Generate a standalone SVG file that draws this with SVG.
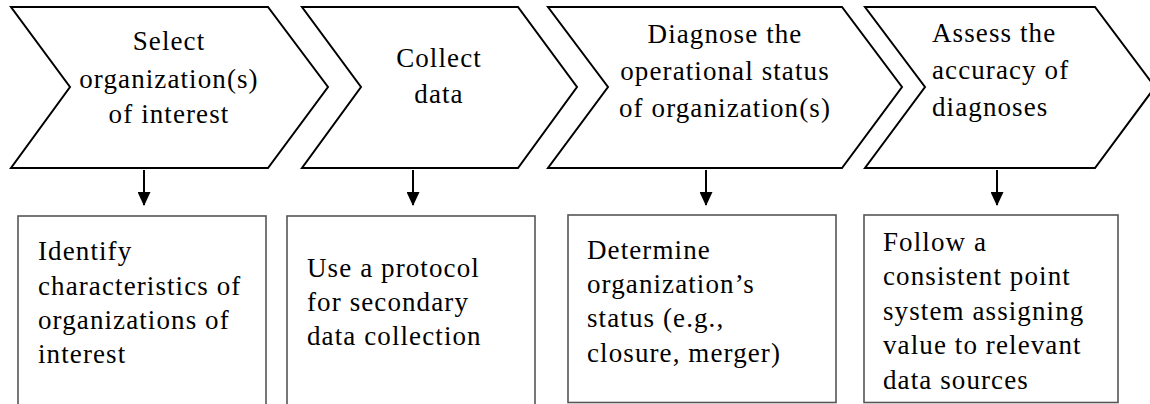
<svg xmlns="http://www.w3.org/2000/svg" width="1150" height="404" viewBox="0 0 1150 404">
  <style>
    .chev { fill: #ffffff; stroke: #000000; stroke-width: 2; stroke-linejoin: miter; }
    .box { fill: #ffffff; stroke: #555555; stroke-width: 1.6; }
    text { font-family: 'Liberation Serif', 'DejaVu Serif', serif; font-size: 27px; letter-spacing: 1.1px; fill: #000000; }
    .c { text-anchor: middle; }
    .conn line { stroke: #000000; stroke-width: 2; }
  </style>
  <defs>
    <marker id="arrowhead" viewBox="0 0 14 13" refX="13" refY="6.5" markerWidth="14" markerHeight="13" markerUnits="userSpaceOnUse" orient="auto">
      <path d="M0,0 L14,6.5 L0,13 Z" fill="#000000"/>
    </marker>
  </defs>
  <rect width="1150" height="404" fill="#ffffff"/>

  <!-- process steps (chevrons) -->
  <g id="step-select">
    <polygon class="chev" points="11,7 268,7 328,87 268,168 11,168 70,87"/>
    <text class="c" x="169" y="50">Select</text>
    <text class="c" x="169" y="88">organization(s)</text>
    <text class="c" x="169" y="123">of interest</text>
  </g>
  <g id="step-collect">
    <polygon class="chev" points="302,7 518,7 577,87 518,168 302,168 361,87"/>
    <text class="c" x="439" y="67">Collect</text>
    <text class="c" x="439" y="103">data</text>
  </g>
  <g id="step-diagnose">
    <polygon class="chev" points="548,7 842,7 902,87 842,168 548,168 608,87"/>
    <text class="c" x="725" y="43">Diagnose the</text>
    <text class="c" x="725" y="80">operational status</text>
    <text class="c" x="725" y="117">of organization(s)</text>
  </g>
  <g id="step-assess">
    <polygon class="chev" points="865,7 1095,7 1155,87 1095,168 865,168 925,87"/>
    <text x="932" y="42">Assess the</text>
    <text x="932" y="79">accuracy of</text>
    <text x="932" y="116">diagnoses</text>
  </g>

  <!-- detail boxes -->
  <g id="detail-select">
    <rect class="box" x="18" y="216" width="248" height="192"/>
    <text x="38" y="260">Identify</text>
    <text x="38" y="295">characteristics of</text>
    <text x="38" y="329">organizations of</text>
    <text x="38" y="363">interest</text>
  </g>
  <g id="detail-collect">
    <rect class="box" x="287" y="216" width="248" height="192"/>
    <text x="307" y="277">Use a protocol</text>
    <text x="307" y="311">for secondary</text>
    <text x="307" y="345">data collection</text>
  </g>
  <g id="detail-diagnose">
    <rect class="box" x="568" y="215" width="268" height="187.5"/>
    <text x="587" y="259">Determine</text>
    <text x="587" y="293">organization’s</text>
    <text x="587" y="327">status (e.g.,</text>
    <text x="587" y="362">closure, merger)</text>
  </g>
  <g id="detail-assess">
    <rect class="box" x="864" y="215" width="254" height="187.5"/>
    <text x="883" y="251">Follow a</text>
    <text x="883" y="285">consistent point</text>
    <text x="883" y="320">system  assigning</text>
    <text x="883" y="354">value to relevant</text>
    <text x="883" y="389">data sources</text>
  </g>

  <!-- connectors -->
  <g id="connectors" class="conn">
    <line x1="144" y1="170" x2="144" y2="205" marker-end="url(#arrowhead)"/>
    <line x1="413" y1="170" x2="413" y2="205" marker-end="url(#arrowhead)"/>
    <line x1="706" y1="170" x2="706" y2="205" marker-end="url(#arrowhead)"/>
    <line x1="997" y1="170" x2="997" y2="205" marker-end="url(#arrowhead)"/>
  </g>
</svg>
